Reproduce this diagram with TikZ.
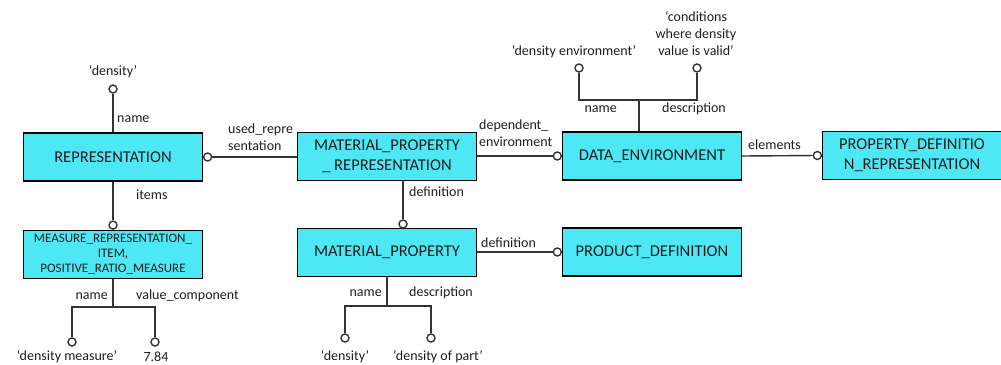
\documentclass[tikz,border=0pt]{standalone}
\usepackage{fontspec}
\setmainfont{Carlito}
\usetikzlibrary{positioning}

\definecolor{entitycyan}{RGB}{78,232,245}
\definecolor{linegrey}{RGB}{51,51,51}
\definecolor{textgrey}{RGB}{30,30,30}

\tikzset{
  entity/.style={draw=black, line width=1.4pt, fill=entitycyan, minimum width=178.5, minimum height=48,
    inner sep=0pt, align=center, text=textgrey, font=\fontsize{16.5}{20}\selectfont},
  smallentity/.style={entity, font=\fontsize{13}{15}\selectfont},
  endmark/.style={circle, draw=linegrey, fill=white, line width=1.4pt, minimum size=8, inner sep=0pt},
  link/.style={draw=linegrey, line width=1.4pt},
  role/.style={font=\fontsize{14}{17}\selectfont, text=textgrey, inner sep=0pt, align=left},
  value/.style={font=\fontsize{14}{17}\selectfont, text=textgrey, inner sep=0pt, align=center}
}

\begin{document}
\begin{tikzpicture}[x=1pt, y=-1pt]
    \useasboundingbox (0,0) rectangle (1001,364);

    % entities
    \node[entity] (rep) at (113,157) {REPRESENTATION};
    \node[smallentity] (mri) at (113,254.5) {MEASURE\_REPRESENTATION\_\\ITEM,\\POSITIVE\_RATIO\_MEASURE};
    \node[entity] (mpr) at (387,156.5) {MATERIAL\_PROPERTY\\\_ REPRESENTATION};
    \node[entity] (mp) at (387,252.5) {MATERIAL\_PROPERTY};
    \node[entity] (denv) at (652,156) {DATA\_ENVIRONMENT};
    \node[entity] (pd) at (652,252) {PRODUCT\_DEFINITION};
    \node[entity] (pdr) at (912,155.5) {PROPERTY\_DEFINITIO\\N\_REPRESENTATION};

    % open ends
    \node[endmark] (c-repname) at (113,89) {};
    \node[endmark, anchor=west] (c-repused) at (rep.east) {};
    \node[endmark, anchor=south] (c-mri) at (mri.north) {};
    \node[endmark] (c-mriname) at (72,342) {};
    \node[endmark] (c-mrival) at (155,342) {};
    \node[endmark] (c-mprdef) at (403,224) {};
    \node[endmark, anchor=east] (c-mprenv) at (denv.west) {};
    \node[endmark, anchor=east] (c-mpdef) at (pd.west) {};
    \node[endmark] (c-mpname) at (345,338) {};
    \node[endmark] (c-mpdesc) at (431,338) {};
    \node[endmark] (c-envname) at (579,68) {};
    \node[endmark] (c-envdesc) at (697,68) {};
    \node[endmark, anchor=east] (c-elem) at (pdr.west) {};

    \coordinate (mri-fork) at (113,307);
    \coordinate (mp-fork) at (387,306);
    \coordinate (env-fork) at (639,100);

    % connectors
    \draw[link] (rep.north) -- (c-repname);
    \draw[link] (c-repused) -- (c-repused -| mpr.west);
    \draw[link] (rep.south) -- (c-mri);
    \draw[link] (mri.south) -- (mri-fork);
    \draw[link] (c-mriname) |- (mri-fork) -| (c-mrival);
    \draw[link] (c-mprenv -| mpr.east) -- (c-mprenv);
    \draw[link] (mpr.south -| c-mprdef) -- (c-mprdef);
    \draw[link] (c-mpdef -| mp.east) -- (c-mpdef);
    \draw[link] (mp.south) -- (mp-fork);
    \draw[link] (c-mpname) |- (mp-fork) -| (c-mpdesc);
    \draw[link] (denv.north -| env-fork) -- (env-fork);
    \draw[link] (c-envname) |- (env-fork) -| (c-envdesc);
    \draw[link] (denv.east) -- (c-elem);

    % role names
    \node[role, anchor=west] (l-repname) at (117,119) {name};
    \node[role, anchor=west] (l-repused) at (228,137.5) {used\_repre\\sentation};
    \node[role, anchor=west] (l-items) at (136,195) {items};
    \node[role, anchor=east] (l-mriname) at (108,296) {name};
    \node[role, anchor=west] (l-mrival) at (136,296) {value\_component};
    \node[role, anchor=west] (l-mprenv) at (479,133) {dependent\_\\environment};
    \node[role, anchor=west] (l-mprdef) at (409,192) {definition};
    \node[role, anchor=west] (l-mpdef) at (481,243) {definition};
    \node[role, anchor=east] (l-mpname) at (382,293) {name};
    \node[role, anchor=west] (l-mpdesc) at (409,293) {description};
    \node[role, anchor=east] (l-envname) at (617,109) {name};
    \node[role, anchor=west] (l-envdesc) at (662,109) {description};
    \node[role, anchor=west] (l-elem) at (748,145) {elements};

    % values
    \node[value] (v-repname) at (113,72) {‘density’};
    \node[value] (v-mriname) at (67,357) {‘density measure’};
    \node[value] (v-mrival) at (156,357) {7.84};
    \node[value] (v-mpname) at (345,357) {‘density’};
    \node[value] (v-mpdesc) at (438,357) {‘density of part’};
    \node[value] (v-envname) at (574,52) {‘density environment’};
    \node[value] (v-envdesc) at (696,34) {‘conditions\\where density\\value is valid’};
\end{tikzpicture}
\end{document}
